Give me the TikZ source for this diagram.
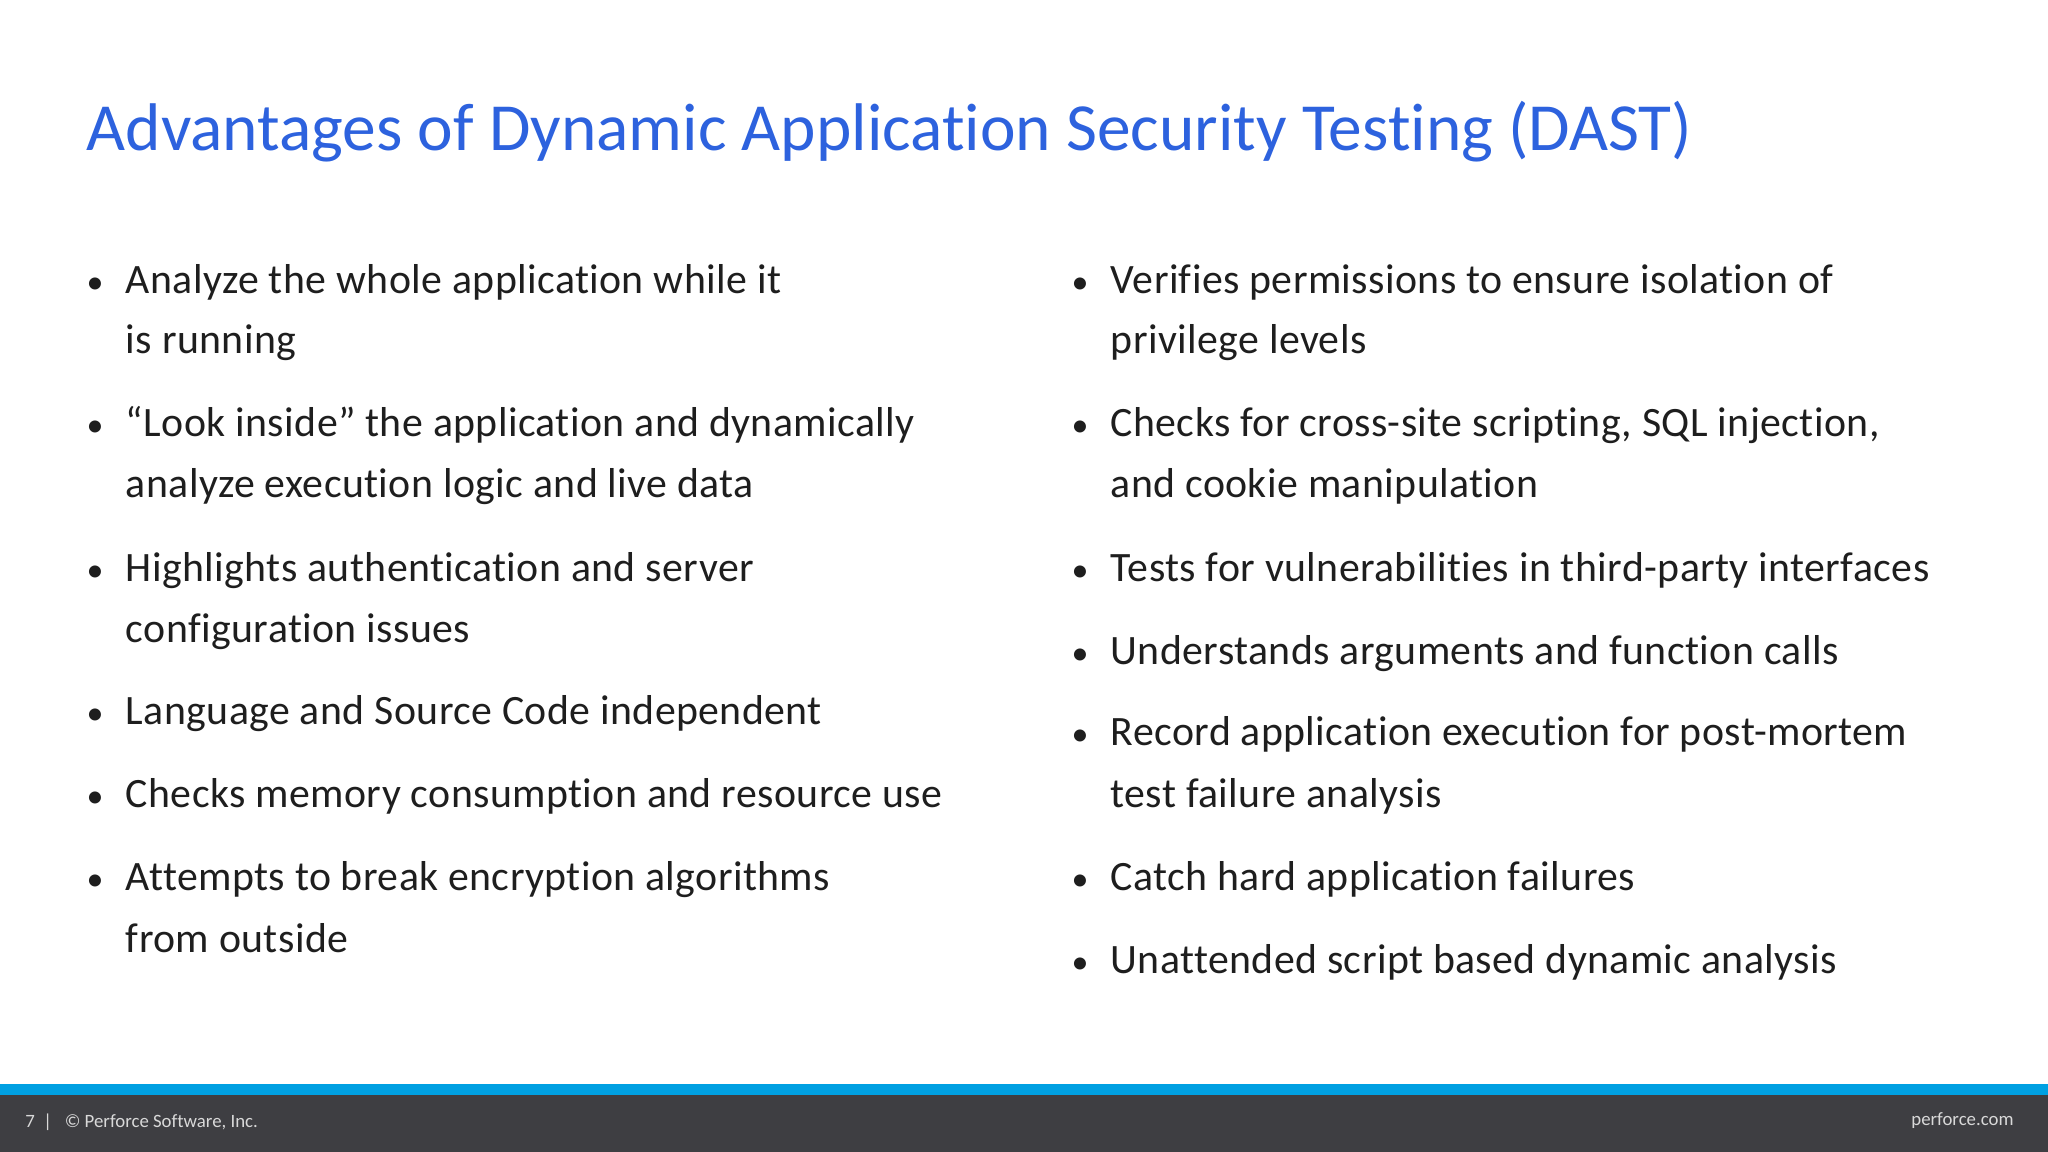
\documentclass[tikz,border=0pt]{standalone}
\usepackage{fontspec}
\setmainfont{Carlito}[Ligatures={NoCommon}]
\newfontfamily\bodyfont{Carlito}[Ligatures={NoCommon},LetterSpace=1]
\newfontfamily\titlefont{Carlito}[Ligatures={NoCommon}]
\definecolor{ttl}{RGB}{45,98,222}
\definecolor{bodyc}{RGB}{30,30,30}
\definecolor{barblue}{RGB}{0,160,226}
\definecolor{bardark}{RGB}{62,62,66}
\begin{document}
\begin{tikzpicture}[x=0.5pt,y=-0.5pt,
  ln/.style={anchor=base west,inner sep=0pt,font=\bodyfont\fontsize{16}{18}\selectfont,text=bodyc},
  bul/.style={anchor=base west,inner sep=0pt,font=\fontsize{13}{14}\selectfont,text=bodyc},
  ft/.style={inner sep=0pt,font=\fontsize{7.2}{8}\selectfont,text=white!85!black}]
\useasboundingbox (0,0) rectangle (1568,882);
\fill[white] (0,0) rectangle (1568,882);
\fill[barblue] (0,830) rectangle (1568,838);
\fill[bardark] (0,838) rectangle (1568,882);
\node[anchor=base west,inner sep=0pt,font=\titlefont\fontsize{25.8}{28}\selectfont,text=ttl] (title) at (66,115) {Advantages of Dynamic Application Security Testing (DAST)};
% left column
\foreach \y/\t [count=\i] in {225/{Analyze the whole application while it},334/{“Look inside” the application and dynamically},445/{Highlights authentication and server},555/{Language and Source Code independent},618/{Checks memory consumption and resource use},682/{Attempts to break encryption algorithms}}{
  \node[bul] (lb\i) at (66,\y) {•};
  \node[ln] (l\i) at (96,\y) {\t};
}
\node[ln] (l1b) at (96,271) {is running};
\node[ln] (l2b) at (96,381) {analyze execution logic and live data};
\node[ln] (l3b) at (96,492) {configuration issues};
\node[ln] (l6b) at (96,729) {from outside};
% right column
\foreach \y/\t [count=\i] in {225/{Verifies permissions to ensure isolation of},334/{Checks for cross-site scripting, SQL injection,},445/{Tests for vulnerabilities in third-party interfaces},509/{Understands arguments and function calls},571/{Record application execution for post-mortem},682/{Catch hard application failures},745/{Unattended script based dynamic analysis}}{
  \node[bul] (rb\i) at (820,\y) {•};
  \node[ln] (r\i) at (850,\y) {\t};
}
\node[ln] (r1b) at (850,271) {privilege levels};
\node[ln] (r2b) at (850,381) {and cookie manipulation};
\node[ln] (r5b) at (850,618) {test failure analysis};
% footer
\node[ft,anchor=west] (pg) at (19,859) {7 \ |\ \ \ © Perforce Software, Inc.};
\node[ft,anchor=east] (site) at (1542,858) {perforce.com};
\end{tikzpicture}
\end{document}
